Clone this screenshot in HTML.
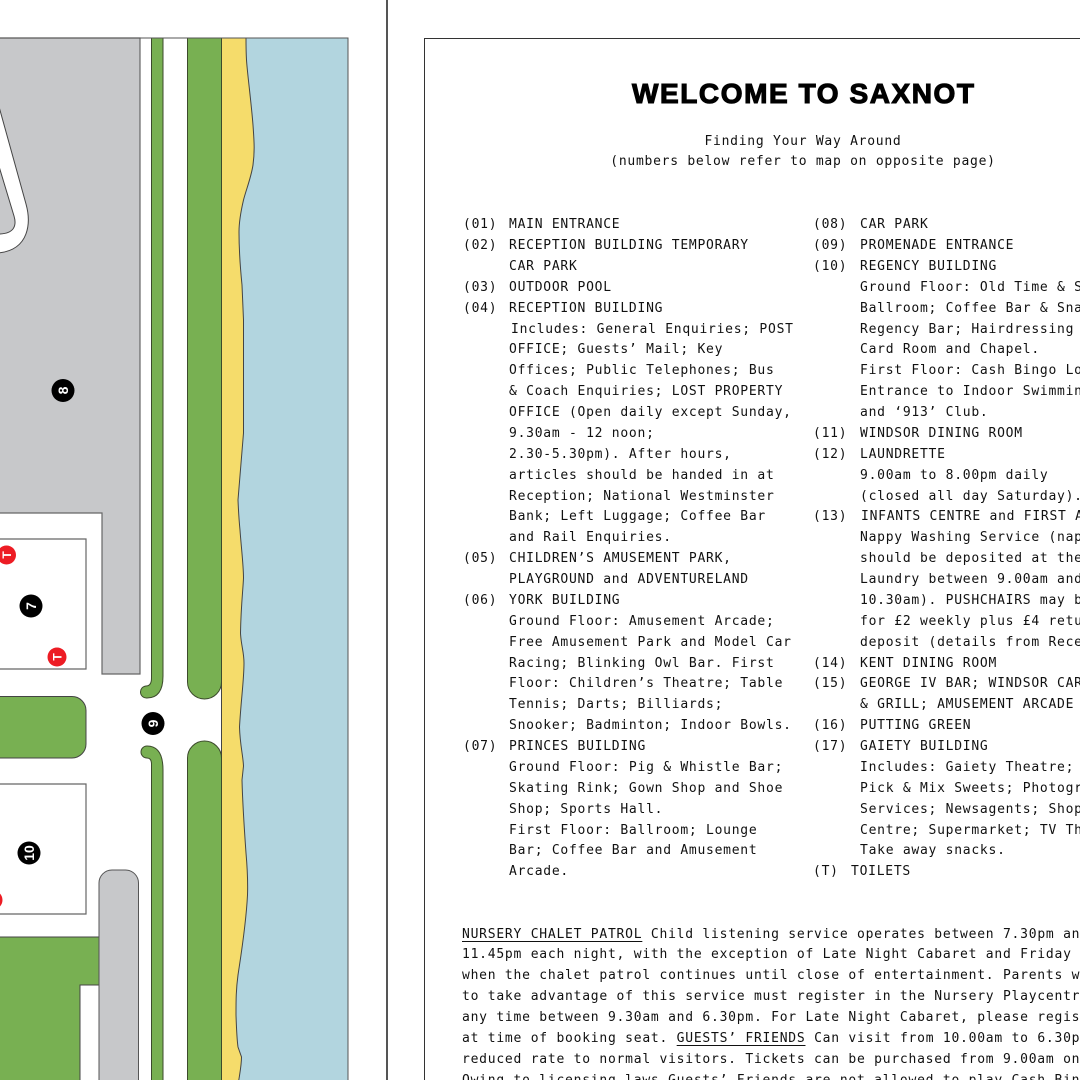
<!DOCTYPE html>
<html><head><meta charset="utf-8"><style>
html,body{margin:0;padding:0;background:#fff}
#p{position:relative;width:1080px;height:1080px;overflow:hidden;background:#fff}
svg{position:absolute;left:0;top:0}
pre{position:absolute;margin:0;font:13px/20.87px "DejaVu Sans Mono",monospace;letter-spacing:.74px;color:#111;white-space:pre}
u{text-underline-offset:3px}
.c{width:758px;text-align:center}
i{font-style:normal;position:relative}
</style></head><body><div id="p">
<svg width="1080" height="1080" viewBox="0 0 1080 1080">
<rect x="225" y="38" width="123" height="1050" fill="#b2d5df" stroke="#555" stroke-width="1"/>
<path d="M221.5,38H246C246,50 246.2,55 246.5,60C247.5,75 251,100 253,125C254,140 255,150 253,165C251,178 246,190 243.5,200C240,215 239,225 239,232C239,250 240,265 242,285L243.5,320V433L238,500C238.5,512 239,520 240,530C241,545 243.5,565 243.5,578C243,590 241,605 240.5,633C241,645 244,652 244,663C244,680 241,700 239.5,727C240,745 243,755 243.5,766L242,780C242.5,800 244,825 246,853C247.5,870 248,880 247.5,895C246,925 241,955 238,975C236,990 236,1000 236,1015C236.5,1030 237,1040 238,1047L241.5,1057C241.5,1065 240,1072 238.5,1082H221.5Z" fill="#f5dc6b" stroke="#444" stroke-width="1"/>
<path d="M-2,38H140V674H102V513H-2Z" fill="#c7c8ca" stroke="#666" stroke-width="1.2"/>
<path d="M-2,103L26,204C31,222 30,250 -2,253V234C14,234 17,226 14,216L-2,163Z" fill="#fff" stroke="#444" stroke-width="1"/>
<path d="M151.500,38V678Q151.500,686 146,686A6,6 0 0 0 147,698Q163,698 163,676V38Z" fill="#78b052" stroke="#3c4a2c" stroke-width="1"/>
<path d="M163,1085V770Q163,746 147,746A6,6 0 0 0 147,758Q151.500,758 151.500,764V1085Z" fill="#78b052" stroke="#3c4a2c" stroke-width="1"/>
<path d="M187.500,38V682A17,17 0 0 0 221.500,682V38Z" fill="#78b052" stroke="#3c4a2c" stroke-width="1"/>
<path d="M187.500,1085V758A17,17 0 0 1 221.500,758V1085Z" fill="#78b052" stroke="#3c4a2c" stroke-width="1"/>
<path d="M-2,539H86V669H-2Z" fill="#fff" stroke="#666" stroke-width="1.2"/>
<path d="M-2,784H86V914H-2Z" fill="#fff" stroke="#666" stroke-width="1.2"/>
<path d="M-2,696.500H72A14,14 0 0 1 86,710.500V744A14,14 0 0 1 72,758H-2Z" fill="#78b052" stroke="#444" stroke-width="1"/>
<path d="M-2,937H99V985H80V1085H-2Z" fill="#78b052" stroke="#444" stroke-width="1"/>
<path d="M99,1085V883A13,13 0 0 1 112,870H125.500A13,13 0 0 1 138.500,883V1085Z" fill="#c7c8ca" stroke="#555" stroke-width="1"/>
<path d="M0,38H348" stroke="#555" stroke-width="1"/>
<rect x="386" y="-2" width="2" height="1090" fill="#555"/>
<path d="M424.500,1085V38.500H1085" fill="none" stroke="#333" stroke-width="1"/>
<g font-family="Liberation Sans,sans-serif" font-weight="700" text-anchor="middle" fill="#fff">
<circle cx="63" cy="390.500" r="11.500" fill="#000"/><text font-size="14" transform="translate(68,390.500) rotate(-90)">8</text>
<circle cx="31" cy="606" r="11.500" fill="#000"/><text font-size="14" transform="translate(36,606) rotate(-90)">7</text>
<circle cx="153" cy="723.500" r="11.500" fill="#000"/><text font-size="14" transform="translate(158,723.500) rotate(-90)">9</text>
<circle cx="29" cy="853" r="11.500" fill="#000"/><text font-size="14" transform="translate(34,853) rotate(-90)">10</text>
<circle cx="6.500" cy="555" r="9.500" fill="#ed1c24"/><text font-size="12" transform="translate(10.800,555) rotate(-90)">T</text>
<circle cx="57" cy="657" r="9.500" fill="#ed1c24"/><text font-size="12" transform="translate(61.300,657) rotate(-90)">T</text>
<circle cx="-7" cy="900" r="9.500" fill="#ed1c24"/>
</g>
<text x="632" y="103" font-family="Liberation Sans,sans-serif" font-weight="700" font-size="28" textLength="342" lengthAdjust="spacing" fill="#000" stroke="#000" stroke-width="1.1">WELCOME TO SAXNOT</text>
</svg>
<pre class="c" style="left:424px;top:131.500px">Finding Your Way Around
(numbers below refer to map on opposite page)</pre>
<pre style="left:463px;top:215.200px">(01)
(02)

(03)
(04)











(05)

(06)






(07)</pre>
<pre style="left:509px;top:215.200px">MAIN ENTRANCE
RECEPTION BUILDING TEMPORARY
CAR PARK
OUTDOOR POOL
RECEPTION BUILDING
<i style="left:2px">Includes: General Enquiries; POST</i>
OFFICE; Guests’ Mail; Key
Offices; Public Telephones; Bus
&amp; Coach Enquiries; LOST PROPERTY
OFFICE (Open daily except Sunday,
9.30am - 12 noon;
2.30-5.30pm). After hours,
articles should be handed in at
Reception; National Westminster
Bank; Left Luggage; Coffee Bar
and Rail Enquiries.
CHILDREN’S AMUSEMENT PARK,
PLAYGROUND and ADVENTURELAND
YORK BUILDING
Ground Floor: Amusement Arcade;
Free Amusement Park and Model Car
Racing; Blinking Owl Bar. First
Floor: Children’s Theatre; Table
Tennis; Darts; Billiards;
Snooker; Badminton; Indoor Bowls.
PRINCES BUILDING
Ground Floor: Pig &amp; Whistle Bar;
Skating Rink; Gown Shop and Shoe
Shop; Sports Hall.
First Floor: Ballroom; Lounge
Bar; Coffee Bar and Amusement
Arcade.</pre>
<pre style="left:813px;top:215.200px">(08)
(09)
(10)







(11)
(12)


(13)






(14)
(15)

(16)
(17)





(T)</pre>
<pre style="left:860px;top:215.200px">CAR PARK
PROMENADE ENTRANCE
REGENCY BUILDING
Ground Floor: Old Time &amp; Sequence
Ballroom; Coffee Bar &amp; Snack Bar;
Regency Bar; Hairdressing Salon;
Card Room and Chapel.
First Floor: Cash Bingo Lounge;
Entrance to Indoor Swimming Pool
and ‘913’ Club.
WINDSOR DINING ROOM
LAUNDRETTE
9.00am to 8.00pm daily
(closed all day Saturday).
<i style="left:1px">INFANTS CENTRE and FIRST AID</i>
Nappy Washing Service (nappies
should be deposited at the
Laundry between 9.00am and
10.30am). PUSHCHAIRS may be hired
for £2 weekly plus £4 returnable
deposit (details from Reception).
KENT DINING ROOM
GEORGE IV BAR; WINDSOR CARVERY
&amp; GRILL; AMUSEMENT ARCADE
PUTTING GREEN
GAIETY BUILDING
Includes: Gaiety Theatre; Shop;
Pick &amp; Mix Sweets; Photographic
Services; Newsagents; Shopping
Centre; Supermarket; TV Theatre;
Take away snacks.</pre>
<pre style="left:851px;top:862.200px">TOILETS</pre>
<pre style="left:462px;top:924.500px;letter-spacing:.76px"><u>NURSERY CHALET PATROL</u> Child listening service operates between 7.30pm and
11.45pm each night, with the exception of Late Night Cabaret and Friday nights
when the chalet patrol continues until close of entertainment. Parents wishing
to take advantage of this service must register in the Nursery Playcentre at
any time between 9.30am and 6.30pm. For Late Night Cabaret, please register
at time of booking seat. <u>GUESTS’ FRIENDS</u> Can visit from 10.00am to 6.30pm at a
reduced rate to normal visitors. Tickets can be purchased from 9.00am on
Owing to licensing laws Guests’ Friends are not allowed to play Cash Bingo</pre>
</div></body></html>
